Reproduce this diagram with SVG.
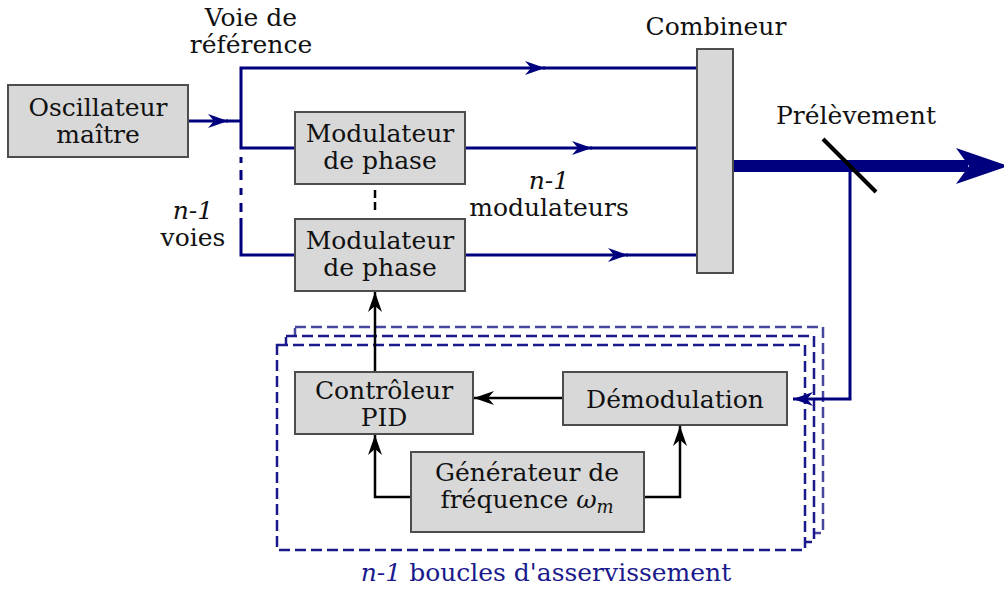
<svg xmlns="http://www.w3.org/2000/svg" width="1004" height="590" viewBox="0 0 1004 590">
<style>
text{font-family:"DejaVu Serif","Liberation Serif",serif;font-size:25px;fill:#111;text-anchor:middle}
.box{fill:#d8d8d8;stroke:#4d4d4d;stroke-width:2}
.bl{fill:none;stroke:#00007f;stroke-width:3}
.bk{fill:none;stroke:#000;stroke-width:2.5}
.dash{fill:#fff;stroke:#1a1a8c;stroke-width:2.5;stroke-dasharray:11 5}
.it{font-style:italic}
.lbl{fill:#1a1a8c}
</style>
<defs>
<marker id="ab" markerUnits="userSpaceOnUse" viewBox="0 0 20 14" refX="20" refY="7" markerWidth="20" markerHeight="14" orient="auto">
<path d="M0,0 L20,7 L0,14 L6,7 Z" fill="#00007f"/>
</marker>
<marker id="ak" markerUnits="userSpaceOnUse" viewBox="0 0 20 14" refX="20" refY="7" markerWidth="20" markerHeight="14" orient="auto">
<path d="M0,0 L20,7 L0,14 L6,7 Z" fill="#000"/>
</marker>
</defs>

<g id="loops">
<rect class="dash" x="295" y="327" width="528" height="206" opacity="0.8"/>
<rect class="dash" x="286" y="336" width="528" height="206"/>
<rect class="dash" x="277" y="345" width="528" height="205"/>
<text class="lbl" x="546" y="581" font-size="24.5"><tspan class="it">n-1</tspan> boucles d'asservissement</text>
</g>

<g id="connectors">
<line class="bl" x1="188" y1="121" x2="228" y2="121" marker-end="url(#ab)"/>
<line class="bl" x1="226" y1="121" x2="241" y2="121"/>
<polyline class="bl" points="295,148 241,148 241,68 545,68" marker-end="url(#ab)"/>
<line class="bl" x1="543" y1="68" x2="697" y2="68"/>
<path class="bl" d="M241,157 V163 M241,170 V180 M241,188 V195 M241,203 V212"/>
<polyline class="bl" points="241,218 241,255 295,255"/>
<line class="bl" x1="465" y1="148" x2="592" y2="148" marker-end="url(#ab)"/>
<line class="bl" x1="590" y1="148" x2="697" y2="148"/>
<line class="bl" x1="465" y1="255" x2="628" y2="255" marker-end="url(#ab)"/>
<line class="bl" x1="626" y1="255" x2="697" y2="255"/>
<line x1="375" y1="190" x2="375" y2="211" stroke="#000" stroke-width="2.5" stroke-dasharray="8 4"/>
<line x1="733" y1="166" x2="968" y2="166" stroke="#00007f" stroke-width="12"/>
<path d="M1008,166 L956,148 L969,166 L956,184 Z" fill="#00007f"/>
<polyline class="bl" points="850,166 850,399 793,399" marker-end="url(#ab)"/>
<line x1="823" y1="139" x2="876" y2="192" stroke="#000" stroke-width="4"/>
<line class="bk" x1="375" y1="372" x2="375" y2="292" marker-end="url(#ak)"/>
<line class="bk" x1="563" y1="398" x2="474" y2="398" marker-end="url(#ak)"/>
<polyline class="bk" points="411,497 375,497 375,435" marker-end="url(#ak)"/>
<polyline class="bk" points="644,497 680,497 680,426" marker-end="url(#ak)"/>
</g>

<g id="osc">
<rect class="box" x="8" y="85" width="180" height="72"/>
<text x="98" y="116">Oscillateur</text>
<text x="98" y="143">maître</text>
</g>
<g id="ref-label">
<text x="251" y="26">Voie de</text>
<text x="251" y="53">référence</text>
</g>
<g id="voies-label">
<text x="193" y="219" class="it">n-1</text>
<text x="193" y="246">voies</text>
</g>
<g id="mod1">
<rect class="box" x="295" y="112" width="170" height="72"/>
<text x="380" y="142">Modulateur</text>
<text x="380" y="169">de phase</text>
</g>
<g id="mod2">
<rect class="box" x="295" y="219" width="170" height="72"/>
<text x="380" y="249">Modulateur</text>
<text x="380" y="276">de phase</text>
</g>
<g id="mods-label">
<text x="549" y="189" class="it">n-1</text>
<text x="549" y="216">modulateurs</text>
</g>
<g id="combineur">
<rect class="box" x="697" y="49" width="36" height="224"/>
<text x="716" y="35">Combineur</text>
</g>
<g id="prelevement">
<text x="856" y="124">Prélèvement</text>
</g>
<g id="pid">
<rect class="box" x="295" y="372" width="178" height="62"/>
<text x="384" y="399">Contrôleur</text>
<text x="384" y="426">PID</text>
</g>
<g id="demod">
<rect class="box" x="563" y="372" width="224" height="53"/>
<text x="675" y="408">Démodulation</text>
</g>
<g id="gen">
<rect class="box" x="411" y="452" width="233" height="80"/>
<text x="527" y="481">Générateur de</text>
<text x="527" y="508">fréquence <tspan class="it">ω</tspan><tspan class="it" font-size="18" dy="5">m</tspan></text>
</g>
</svg>
